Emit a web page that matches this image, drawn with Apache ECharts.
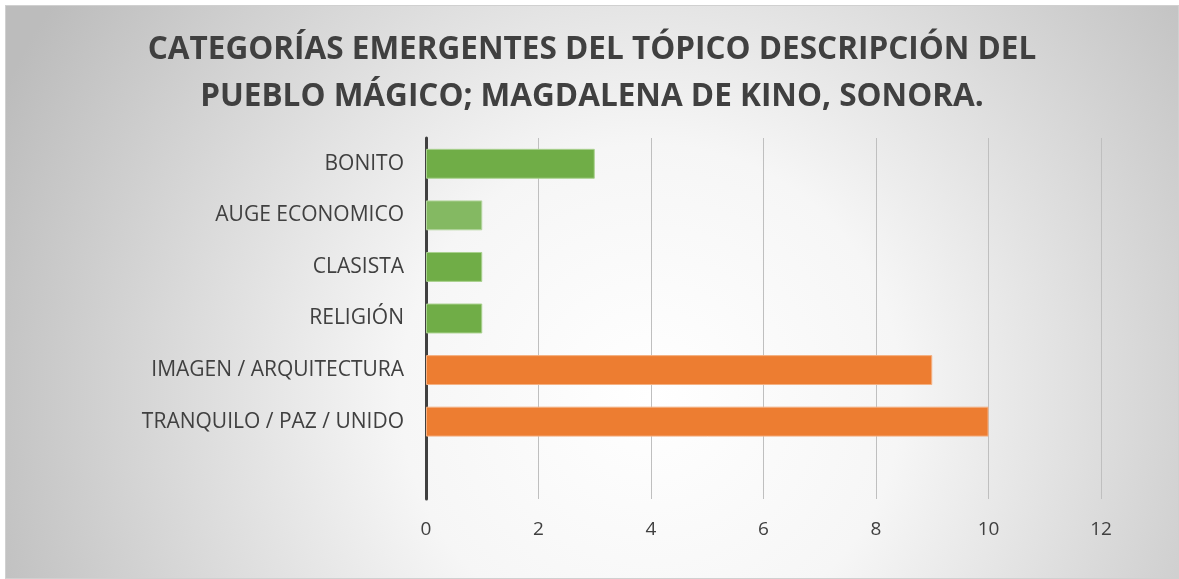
<!DOCTYPE html>
<html>
<head>
    <meta charset="utf-8">
    <title>Categorías emergentes</title>
    <script src="https://cdn.jsdelivr.net/npm/echarts@6/dist/echarts.min.js"></script>
<style type="text/css">
body{
    margin: 0;
    background: #ffffff;
}
#chart{
    position: absolute;
    left: 5px;
    top: 5px;
    width: 1174px;
    height: 574px;
    box-sizing: border-box;
    border: 1px solid #d0d0d0;
}
</style>
</head>
<body>
    <div id="chart"></div>
    <script>
        // categories top to bottom, the last slot is empty in the original
        var categories = ['BONITO', 'AUGE ECONOMICO', 'CLASISTA', 'RELIGIÓN', 'IMAGEN / ARQUITECTURA', 'TRANQUILO / PAZ / UNIDO', ''];
        var values = [3, 1, 1, 1, 9, 10, '-'];
        var barColors = ['#70ad47', '#84b962', '#70ad47', '#70ad47', '#ed7d31', '#ed7d31', '#ed7d31'];
        var borderColors = ['#a9d18e', '#b5d69f', '#a9d18e', '#a9d18e', '#f4b183', '#f4b183', '#f4b183'];
        var xTicks = [0, 2, 4, 6, 8, 10, 12];

        var chart = echarts.init(document.getElementById('chart'));

        var barData = values.map(function (v, i) {
            return {
                value: v,
                itemStyle: {color: barColors[i], borderColor: borderColors[i], borderWidth: 1}
            };
        });

        var option = {
            animation: false,
            backgroundColor: {
                type: 'radial', x: 0.55, y: 0.68, r: 1.25,
                colorStops: [
                    {offset: 0, color: '#ffffff'},
                    {offset: 0.35, color: '#f6f6f6'},
                    {offset: 1, color: '#bcbcbc'}
                ]
            },
            title: {
                text: 'CATEGORÍAS EMERGENTES DEL TÓPICO DESCRIPCIÓN DEL\nPUEBLO MÁGICO; MAGDALENA DE KINO, SONORA.',
                left: 'center',
                top: 16,
                textStyle: {
                    fontFamily: 'Open Sans',
                    fontWeight: 'bold',
                    fontSize: 31.5,
                    lineHeight: 47,
                    color: '#404040'
                }
            },
            grid: {left: 420, right: 77, top: 132, bottom: 79},
            xAxis: {
                type: 'value',
                min: xTicks[0],
                max: xTicks[xTicks.length - 1],
                interval: 2,
                axisLine: {show: false},
                axisTick: {show: false},
                splitLine: {lineStyle: {color: '#bfbfbf', width: 1}},
                axisLabel: {
                    margin: 21,
                    fontFamily: 'Open Sans',
                    fontSize: 19,
                    color: '#404040'
                }
            },
            yAxis: {
                type: 'category',
                data: categories,
                inverse: true,
                axisTick: {show: false},
                axisLine: {lineStyle: {color: '#404040', width: 3}},
                axisLabel: {
                    margin: 22,
                    fontFamily: 'Open Sans',
                    fontSize: 21,
                    color: '#404040'
                }
            },
            series: [{
                type: 'bar',
                data: barData,
                barWidth: '58%'
            }]
        };
        chart.setOption(option);
    </script>
</body>
</html>
